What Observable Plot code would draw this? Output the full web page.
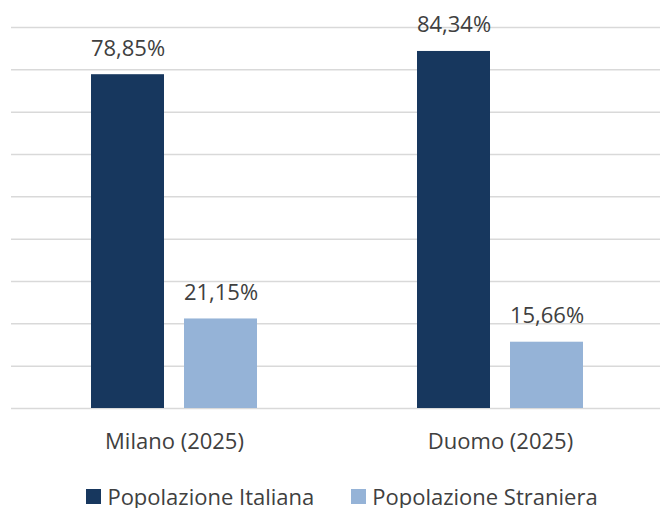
<!DOCTYPE html>
<html><head><meta charset="utf-8">
<script src="https://cdn.jsdelivr.net/npm/d3@7"></script>
<script src="https://cdn.jsdelivr.net/npm/@observablehq/plot@0.6"></script>
<style>
body{margin:0;background:#fff;font-family:"Open Sans",sans-serif;}
#chart svg{display:block;}
#legend{margin-top:14px; padding-left:24px; line-height:1.1;}
#legend > div{justify-content:center !important; font-family:"Open Sans",sans-serif !important; font-size:22px !important; line-height:1.1 !important; color:#404040 !important; margin:0 !important; min-height:0 !important;}
#legend > div > span{margin-right:37px !important; line-height:1.1 !important;}
#legend > div > span:last-child{margin-right:0 !important;}
#legend svg{margin-right:6px !important;}
</style></head><body><div id="chart"></div><div id="legend"></div>
<script>
const categories = ["Milano (2025)", "Duomo (2025)"];
const series = ["Popolazione Italiana", "Popolazione Straniera"];
const italiana = [78.85, 84.34];
const straniera = [21.15, 15.66];
const colors = ["#17375E", "#95B3D7"];
const yTicks = [0, 10, 20, 30, 40, 50, 60, 70, 80, 90];

const data = categories.flatMap((c, i) => [
  {cat: c, series: series[0], value: italiana[i]},
  {cat: c, series: series[1], value: straniera[i]}
]);
const fmt = v => v.toFixed(2).replace(".", ",") + "%";

const chart = Plot.plot({
  width: 660, height: 470,
  marginLeft: 11, marginRight: -3, marginTop: 27, marginBottom: 62,
  style: {fontFamily: "Open Sans, sans-serif", fontSize: "22px", color: "#404040", background: "white", overflow: "hidden"},
  fx: {domain: categories, padding: 0, label: null},
  x: {domain: series, paddingInner: 0.215, paddingOuter: 0.855, axis: null},
  y: {domain: [0, 90], axis: null},
  color: {domain: series, range: colors},
  marks: [
    Plot.ruleY(yTicks, {stroke: "#d9d9d9", strokeWidth: 1.5}),
    Plot.barY(data, {fx: "cat", x: "series", y: "value", fill: "series"}),
    Plot.text(data, {fx: "cat", x: "series", y: "value", text: d => fmt(d.value), lineAnchor: "bottom", dy: -19, fill: "#404040", fontSize: 22}),
    Plot.axisFx({anchor: "bottom", tickSize: 0, tickPadding: 25, label: null, fontSize: 22, fill: "#404040"})
  ]
});
document.getElementById("chart").append(chart);

const legend = Plot.legend({
  color: {domain: series, range: colors},
  legend: "swatches",
  swatchSize: 15,
  style: {fontFamily: "Open Sans, sans-serif", fontSize: "22px", color: "#404040"}
});
document.getElementById("legend").append(legend);
</script></body></html>
